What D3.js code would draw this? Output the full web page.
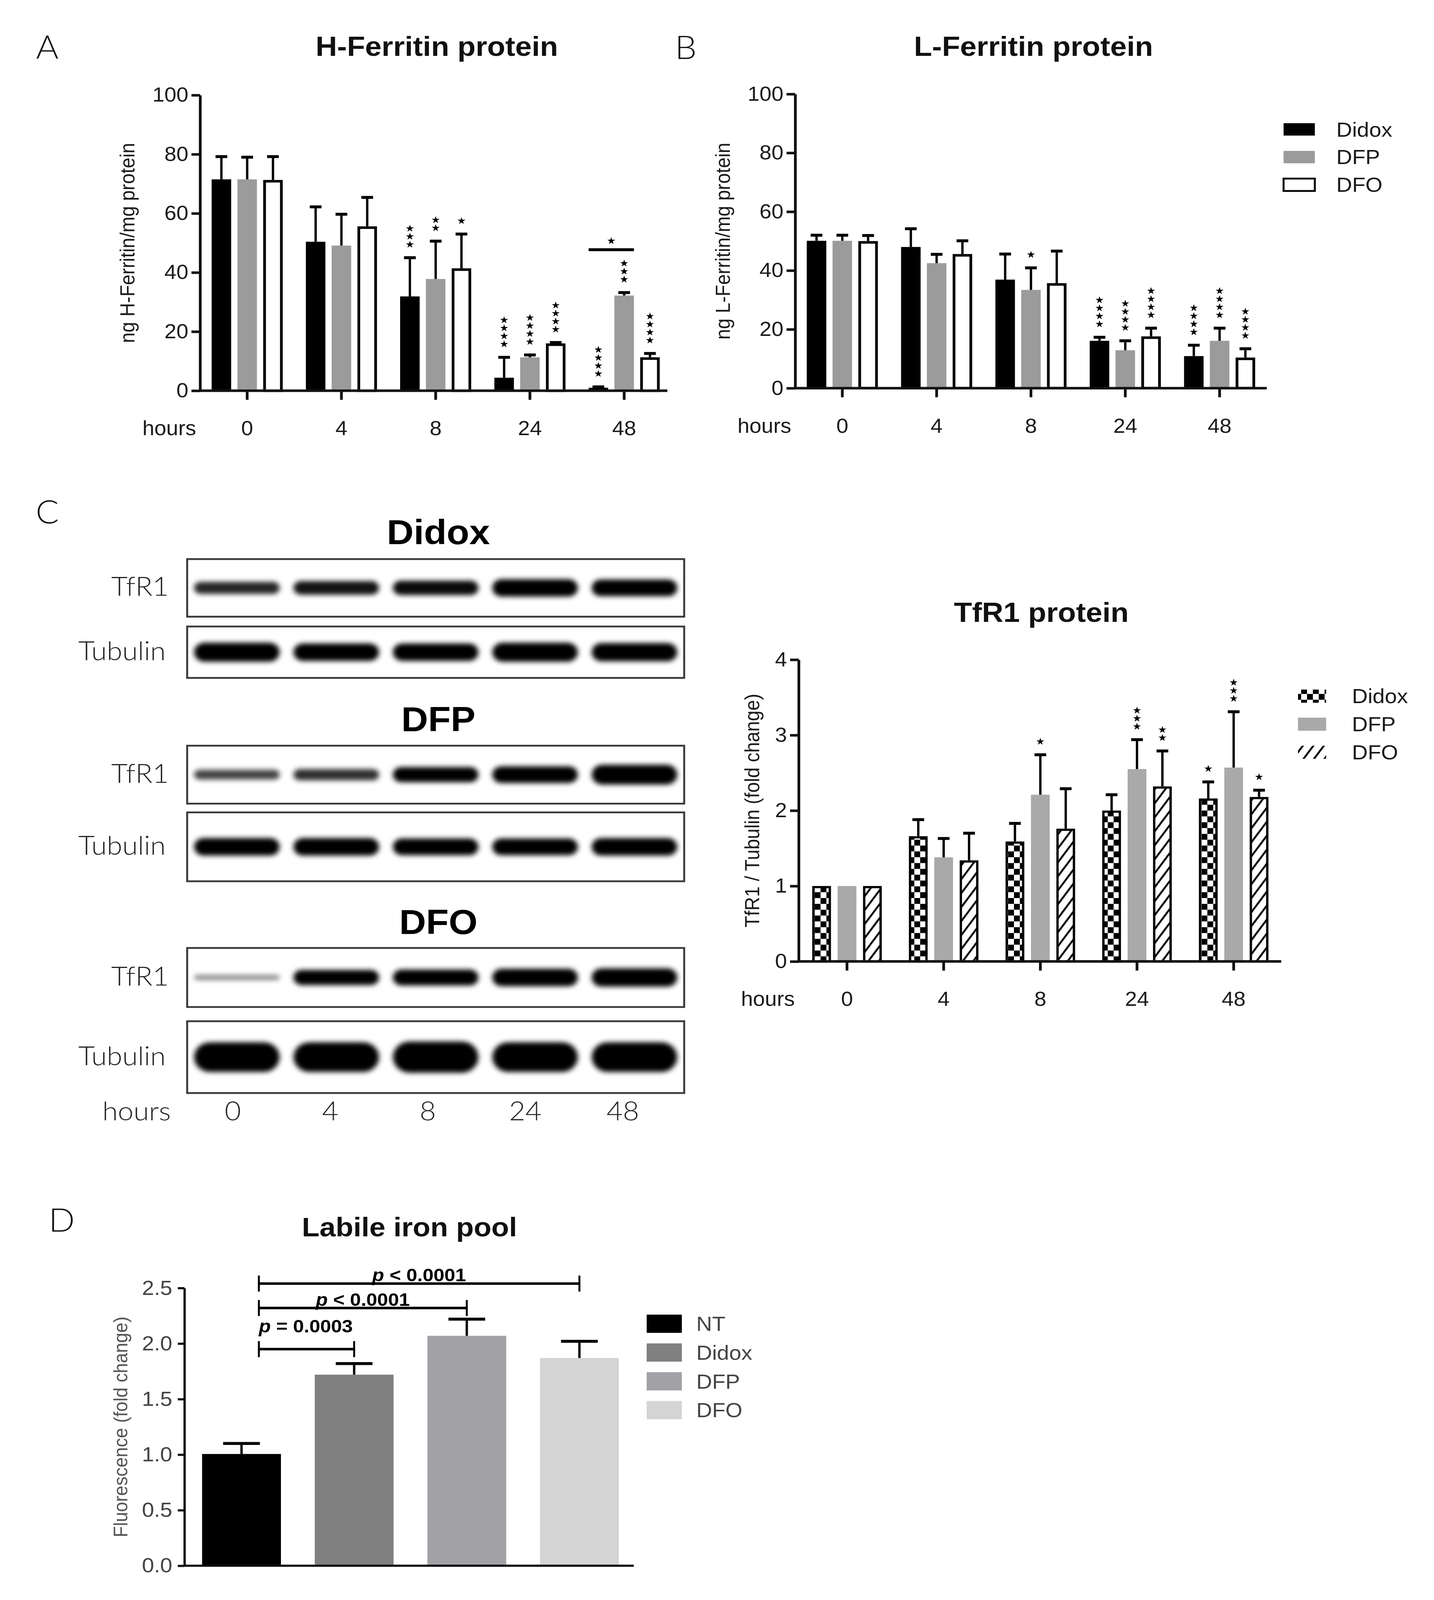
<!DOCTYPE html>
<html>
<head>
<meta charset="utf-8">
<script src="https://cdn.jsdelivr.net/npm/d3@7"></script>
<style>
  html, body { margin: 0; padding: 0; background: #fff; overflow: hidden; }
  svg { display: block; width: 100vw; height: 100vh; }
</style>
</head>
<body>
<div id="figure"></div>
<script>
var svgWidth = 3670;
var svgHeight = 4390;

var ARIAL = "'Liberation Sans', Arial, sans-serif";
var NARROW = "'Liberation Sans Narrow', 'Liberation Sans', Arial, sans-serif";
var LIGHT = "Lato, 'Open Sans', sans-serif";

// categories
var hours = ["0", "4", "8", "24", "48"];
var agents = ["Didox", "DFP", "DFO"];

// A: H-Ferritin protein (ng / mg protein), mean and SD
var hFerDidox = [71.5, 50.4, 31.9, 4.4, 1.0];
var hFerDidoxSD = [7.7, 11.8, 13.1, 6.9, 0.3];
var hFerDidoxSig = ["", "", "***", "****", "****"];
var hFerDFP = [71.5, 49.1, 37.8, 11.3, 32.2];
var hFerDFPSD = [7.5, 10.6, 12.8, 0.8, 1.0];
var hFerDFPSig = ["", "", "**", "****", "***"];
var hFerDFO = [71.3, 55.6, 41.4, 16.0, 11.3];
var hFerDFOSD = [7.9, 9.8, 11.6, 0.3, 1.3];
var hFerDFOSig = ["", "", "*", "****", "****"];

// B: L-Ferritin protein
var lFerDidox = [50.1, 48.0, 36.9, 16.1, 10.9];
var lFerDidoxSD = [1.9, 6.2, 8.7, 1.2, 3.7];
var lFerDidoxSig = ["", "", "", "****", "****"];
var lFerDFP = [50.1, 42.5, 33.4, 12.9, 16.1];
var lFerDFPSD = [1.9, 3.0, 7.5, 3.2, 4.3];
var lFerDFPSig = ["", "", "*", "****", "****"];
var lFerDFO = [50.0, 45.6, 35.7, 17.6, 10.4];
var lFerDFOSD = [1.9, 4.5, 10.9, 2.8, 3.0];
var lFerDFOSig = ["", "", "", "****", "****"];

// C: TfR1 / Tubulin (fold change)
var tfrDidox = [1.0, 1.66, 1.59, 2.0, 2.16];
var tfrDidoxSD = [0, 0.22, 0.24, 0.21, 0.22];
var tfrDidoxSig = ["", "", "", "", "*"];
var tfrDFP = [1.0, 1.38, 2.21, 2.55, 2.57];
var tfrDFPSD = [0, 0.25, 0.53, 0.39, 0.74];
var tfrDFPSig = ["", "", "*", "***", "***"];
var tfrDFO = [1.0, 1.34, 1.76, 2.32, 2.18];
var tfrDFOSD = [0, 0.36, 0.53, 0.47, 0.09];
var tfrDFOSig = ["", "", "", "**", "*"];

// C: western blot band intensities (relative signal per lane)
var blotDidoxTfR1 = [0.6, 0.7, 0.75, 0.95, 0.9];
var blotDidoxTub = [1.05, 0.95, 0.95, 1.05, 1.0];
var blotDFPTfR1 = [0.45, 0.55, 0.8, 0.9, 1.1];
var blotDFPTub = [0.95, 0.95, 0.9, 0.9, 0.95];
var blotDFOTfR1 = [0.12, 0.8, 0.85, 0.95, 1.0];
var blotDFOTub = [1.75, 1.75, 1.85, 1.75, 1.75];

// D: labile iron pool (fluorescence fold change)
var lipGroups = ["NT", "Didox", "DFP", "DFO"];
var lipMean = [1.006, 1.72, 2.07, 1.87];
var lipSD = [0.095, 0.10, 0.15, 0.15];
var lipPairTarget = ["Didox", "DFP", "DFO"];
var lipPairText = ["0.0003", "0.0001", "0.0001"];
var lipPairSign = ["=", "<", "<"];
var lipPairLevel = [1.95, 2.32, 2.54];

// the drawing keeps its 3670x4390 coordinates and is stretched onto the viewport
var svg = d3.select("#figure")
  .append("svg")
  .attr("viewBox", `0 0 ${svgWidth} ${svgHeight}`)
  .attr("preserveAspectRatio", "none")
  .style("background", "#fff");

var defs = svg.append("defs");

// checkerboard fill for Didox (TfR1 chart)
var checker = defs.append("pattern")
  .attr("id", "checker")
  .attr("patternUnits", "userSpaceOnUse")
  .attr("width", 30).attr("height", 32);
checker.append("rect").attr("width", 30).attr("height", 32).attr("fill", "#fff");
checker.append("rect").attr("width", 15).attr("height", 16).attr("fill", "#000");
checker.append("rect").attr("x", 15).attr("y", 16).attr("width", 15).attr("height", 16).attr("fill", "#000");

// diagonal hatch for DFO (TfR1 chart)
var hatch = defs.append("pattern")
  .attr("id", "hatch")
  .attr("patternUnits", "userSpaceOnUse")
  .attr("width", 22).attr("height", 22)
  .attr("patternTransform", "rotate(35)");
hatch.append("rect").attr("width", 22).attr("height", 22).attr("fill", "#fff");
hatch.append("line")
  .attr("x1", 11).attr("x2", 11).attr("y1", 0).attr("y2", 22)
  .attr("stroke", "#000").attr("stroke-width", 5);

// soft edges for blot bands
var blur = defs.append("filter")
  .attr("id", "blur")
  .attr("x", "-50%").attr("y", "-200%")
  .attr("width", "200%").attr("height", "500%");
blur.append("feGaussianBlur").attr("stdDeviation", 7);

// small helper for plain text
function label(x, y, txt, size, opts) {
  opts = opts || {};
  var t = svg.append("text")
    .attr("x", x).attr("y", y)
    .attr("font-family", opts.family || ARIAL)
    .attr("font-size", size)
    .attr("font-weight", opts.weight || "normal")
    .attr("fill", opts.fill || "#111")
    .attr("text-anchor", opts.anchor || "middle")
    .attr("dominant-baseline", "central")
    .text(txt);
  if (opts.rotate) {
    t.attr("transform", `rotate(-90, ${x}, ${y})`);
  }
  return t;
}

// panel letters
label(121, 127, "A", 88, {family: LIGHT, weight: 300});
label(1755, 128, "B", 88, {family: LIGHT, weight: 300});
label(121, 1402, "C", 88, {family: LIGHT, weight: 300});
label(158, 3345, "D", 88, {family: LIGHT, weight: 300});

var star = d3.symbol().type(d3.symbolStar).size(125);

// grouped bar chart with one-sided SD error bars and stacked significance stars
function barPanel(p) {
  var g = svg.append("g");
  var x = d3.scaleBand().domain(hours).range(p.xRange);
  var sub = d3.scalePoint().domain(agents).range([-p.barStep, p.barStep]);
  var y = d3.scaleLinear().domain([0, p.yMax]).range(p.yRange);

  function cx(h, name) {
    return x(h) + x.bandwidth() / 2 + sub(name);
  }

  p.series.forEach(function(s) {
    var rows = hours.map(function(h, i) {
      return {h: h, v: s.mean[i], sd: s.sd[i], sig: s.sig[i]};
    });
    var inset = s.stroke ? p.strokeW / 2 : 0;
    var sg = g.append("g");

    sg.selectAll("rect")
      .data(rows)
      .enter()
      .append("rect")
      .attr("x", d => cx(d.h, s.name) - p.barW / 2 + inset)
      .attr("y", d => y(d.v) + inset)
      .attr("width", p.barW - 2 * inset)
      .attr("height", d => Math.max(0, y(0) - y(d.v) - inset))
      .attr("fill", s.fill)
      .attr("stroke", s.stroke || "none")
      .attr("stroke-width", p.strokeW);

    var eb = sg.selectAll("g.err")
      .data(rows.filter(d => d.sd > 0))
      .enter()
      .append("g")
      .attr("class", "err");
    eb.append("line")
      .attr("x1", d => cx(d.h, s.name))
      .attr("x2", d => cx(d.h, s.name))
      .attr("y1", d => y(d.v))
      .attr("y2", d => y(d.v + d.sd))
      .attr("stroke", "#000")
      .attr("stroke-width", 6);
    eb.append("line")
      .attr("x1", d => cx(d.h, s.name) - p.capW / 2)
      .attr("x2", d => cx(d.h, s.name) + p.capW / 2)
      .attr("y1", d => y(d.v + d.sd))
      .attr("y2", d => y(d.v + d.sd))
      .attr("stroke", "#000")
      .attr("stroke-width", 8);

    // significance stars, stacked upwards
    rows.forEach(function(d) {
      for (var k = 0; k < d.sig.length; k++) {
        sg.append("path")
          .attr("d", star)
          .attr("fill", "#000")
          .attr("transform", `translate(${cx(d.h, s.name)}, ${y(d.v + d.sd) - 36 - k * 22})`);
      }
    });
  });

  // axes
  var yAxis = g.append("g")
    .attr("transform", `translate(${p.xRange[0]}, 0)`)
    .call(d3.axisLeft(y).tickValues(p.yTicks).tickFormat(d3.format("d"))
      .tickSize(22).tickSizeOuter(0).tickPadding(8));
  var xAxis = g.append("g")
    .attr("transform", `translate(0, ${p.yRange[0]})`)
    .call(d3.axisBottom(x).tickSize(25).tickSizeOuter(0).tickPadding(58));
  [yAxis, xAxis].forEach(function(a) {
    a.attr("font-family", ARIAL).attr("font-size", 55);
    a.selectAll("path, line").attr("stroke", "#111").attr("stroke-width", 7);
    a.selectAll("text").attr("fill", "#1a1a1a");
  });
  xAxis.select(".domain").attr("d", `M${p.xRange[0] - 3},0H${p.xEnd}`);

  label(p.xRange[0] - 10, p.yRange[0] + 103, "hours", 55, {anchor: "end", fill: "#1a1a1a"});
  label(p.yLabelX, (p.yRange[0] + p.yRange[1]) / 2, p.yLabel, 52, {rotate: true, fill: "#1a1a1a"});
  label(p.titleX, p.titleY, p.title, 76, {weight: "bold"});

  return {x: x, y: y, cx: cx, g: g};
}

// Panel A
var panelA = barPanel({
  xRange: [512, 1718], xEnd: 1708, yRange: [1072, 261], yMax: 100,
  yTicks: [0, 20, 40, 60, 80, 100],
  barStep: 66, barW: 50, capW: 30, strokeW: 7,
  yLabel: "ng H-Ferritin/mg protein", yLabelX: 326,
  title: "H-Ferritin protein", titleX: 1118, titleY: 127,
  series: [
    {name: "Didox", mean: hFerDidox, sd: hFerDidoxSD, sig: hFerDidoxSig, fill: "#000"},
    {name: "DFP", mean: hFerDFP, sd: hFerDFPSD, sig: hFerDFPSig, fill: "#9b9b9b"},
    {name: "DFO", mean: hFerDFO, sd: hFerDFOSD, sig: hFerDFOSig, fill: "#fff", stroke: "#000"}
  ]
});

// Didox vs DFP at 48 h
var bracketA = 47.7;
panelA.g.append("line")
  .attr("x1", panelA.cx("48", "Didox") - 25)
  .attr("x2", panelA.cx("48", "DFP") + 25)
  .attr("y1", panelA.y(bracketA))
  .attr("y2", panelA.y(bracketA))
  .attr("stroke", "#000").attr("stroke-width", 8);
panelA.g.append("path")
  .attr("d", star)
  .attr("transform", `translate(${(panelA.cx("48", "Didox") + panelA.cx("48", "DFP")) / 2}, ${panelA.y(bracketA) - 24})`);

// Panel B
barPanel({
  xRange: [2035, 3242], xEnd: 3242, yRange: [1065, 258], yMax: 100,
  yTicks: [0, 20, 40, 60, 80, 100],
  barStep: 66, barW: 50, capW: 30, strokeW: 7,
  yLabel: "ng L-Ferritin/mg protein", yLabelX: 1850,
  title: "L-Ferritin protein", titleX: 2645, titleY: 127,
  series: [
    {name: "Didox", mean: lFerDidox, sd: lFerDidoxSD, sig: lFerDidoxSig, fill: "#000"},
    {name: "DFP", mean: lFerDFP, sd: lFerDFPSD, sig: lFerDFPSig, fill: "#9b9b9b"},
    {name: "DFO", mean: lFerDFO, sd: lFerDFOSD, sig: lFerDFOSig, fill: "#fff", stroke: "#000"}
  ]
});

// legend for A/B
var legendB = svg.append("g");
var legendBFill = ["#000", "#9b9b9b", "#fff"];
agents.forEach(function(a, i) {
  var cy = 355 + i * 76;
  legendB.append("rect")
    .attr("x", 3285).attr("y", cy - 17)
    .attr("width", 80).attr("height", 34)
    .attr("fill", legendBFill[i])
    .attr("stroke", i === 2 ? "#000" : "none")
    .attr("stroke-width", 5);
  label(3420, cy, a, 56, {anchor: "start", fill: "#1a1a1a"});
});

// Panel C chart
barPanel({
  xRange: [2044, 3281], xEnd: 3279, yRange: [2638, 1810], yMax: 4,
  yTicks: [0, 1, 2, 3, 4],
  barStep: 65, barW: 48, capW: 30, strokeW: 6,
  yLabel: "TfR1 / Tubulin (fold change)", yLabelX: 1925,
  title: "TfR1 protein", titleX: 2665, titleY: 1680,
  series: [
    {name: "Didox", mean: tfrDidox, sd: tfrDidoxSD, sig: tfrDidoxSig, fill: "url(#checker)", stroke: "#000"},
    {name: "DFP", mean: tfrDFP, sd: tfrDFPSD, sig: tfrDFPSig, fill: "#a9a9a9"},
    {name: "DFO", mean: tfrDFO, sd: tfrDFOSD, sig: tfrDFOSig, fill: "url(#hatch)", stroke: "#000"}
  ]
});

var legendC = svg.append("g");
var legendCFill = ["url(#checker)", "#a9a9a9", "url(#hatch)"];
agents.forEach(function(a, i) {
  var cy = 1910 + i * 77;
  legendC.append("rect")
    .attr("x", 3322).attr("y", cy - 18)
    .attr("width", 72).attr("height", 36)
    .attr("fill", legendCFill[i]);
  label(3460, cy, a, 56, {anchor: "start", fill: "#1a1a1a"});
});

// Panel C blots
var lane = d3.scaleBand().domain(hours).range([479, 1751]);
var laneLabel = d3.scalePoint().domain(hours).range([596, 1594]);
var blotRows = [
  {name: "TfR1", top: 1534, h: 158, vals: blotDidoxTfR1},
  {name: "Tubulin", top: 1719, h: 141, vals: blotDidoxTub},
  {name: "TfR1", top: 2046, h: 159, vals: blotDFPTfR1},
  {name: "Tubulin", top: 2229, h: 189, vals: blotDFPTub},
  {name: "TfR1", top: 2601, h: 162, vals: blotDFOTfR1},
  {name: "Tubulin", top: 2802, h: 197, vals: blotDFOTub}
];
var blotTitles = [["Didox", 1460], ["DFP", 1973], ["DFO", 2529]];
blotTitles.forEach(function(t) {
  label(1122, t[1], t[0], 95, {weight: "bold", fill: "#000"});
});

var blots = svg.append("g");
blotRows.forEach(function(r) {
  var row = blots.append("g");
  var mid = r.top + r.h / 2;
  row.append("rect")
    .attr("x", 479).attr("y", r.top)
    .attr("width", 1272).attr("height", r.h)
    .attr("fill", "#fff")
    .attr("stroke", "#3a3a3a").attr("stroke-width", 5);
  row.selectAll("rect.band")
    .data(r.vals)
    .enter()
    .append("rect")
    .attr("class", "band")
    .attr("x", (d, i) => lane(hours[i]) + lane.bandwidth() * 0.07)
    .attr("width", lane.bandwidth() * 0.86)
    .attr("y", d => mid - (8 + 42 * d) / 2)
    .attr("height", d => 8 + 42 * d)
    .attr("rx", d => (8 + 42 * d) / 2)
    .attr("fill", "#000")
    .attr("fill-opacity", d => Math.min(1, 0.4 + 0.75 * d))
    .attr("filter", "url(#blur)");
  label(r.name === "TfR1" ? 432 : 424, mid - 6, r.name, 72, {family: LIGHT, weight: 300, anchor: "end", fill: "#222"});
});
label(437, 3046, "hours", 72, {family: LIGHT, weight: 300, anchor: "end", fill: "#222"});
hours.forEach(function(h) {
  label(laneLabel(h), 3046, h, 72, {family: LIGHT, weight: 300, fill: "#222"});
});

// Panel D
var dG = svg.append("g");
var xD = d3.scaleBand().domain(lipGroups).range([474, 1627]).paddingInner(0.3).paddingOuter(0.15);
var yD = d3.scaleLinear().domain([0, 2.5]).range([4296, 3534]);
var lipFill = d3.scaleOrdinal().domain(lipGroups).range(["#000", "#808080", "#a2a1a6", "#d4d4d4"]);
var lipRows = lipGroups.map((k, i) => ({k: k, v: lipMean[i], sd: lipSD[i]}));

dG.selectAll("rect.bar")
  .data(lipRows)
  .enter()
  .append("rect")
  .attr("class", "bar")
  .attr("x", d => xD(d.k))
  .attr("y", d => yD(d.v))
  .attr("width", xD.bandwidth())
  .attr("height", d => yD(0) - yD(d.v))
  .attr("fill", d => lipFill(d.k));

var dErr = dG.selectAll("g.err").data(lipRows).enter().append("g");
dErr.append("line")
  .attr("x1", d => xD(d.k) + xD.bandwidth() / 2)
  .attr("x2", d => xD(d.k) + xD.bandwidth() / 2)
  .attr("y1", d => yD(d.v))
  .attr("y2", d => yD(d.v + d.sd))
  .attr("stroke", "#000").attr("stroke-width", 6);
dErr.append("line")
  .attr("x1", d => xD(d.k) + xD.bandwidth() / 2 - 47)
  .attr("x2", d => xD(d.k) + xD.bandwidth() / 2 + 47)
  .attr("y1", d => yD(d.v + d.sd))
  .attr("y2", d => yD(d.v + d.sd))
  .attr("stroke", "#000").attr("stroke-width", 8);

var yAxisD = dG.append("g")
  .attr("transform", "translate(472, 0)")
  .call(d3.axisLeft(yD).tickValues([0, 0.5, 1, 1.5, 2, 2.5]).tickFormat(d3.format(".1f"))
    .tickSize(17).tickSizeOuter(0).tickPadding(14));
yAxisD.attr("font-family", NARROW).attr("font-size", 56);
yAxisD.selectAll("path, line").attr("stroke", "#111").attr("stroke-width", 6);
yAxisD.selectAll("text").attr("fill", "#444");
dG.append("line")
  .attr("x1", 469).attr("x2", 1622)
  .attr("y1", yD(0)).attr("y2", yD(0))
  .attr("stroke", "#111").attr("stroke-width", 6);

label(308, (yD(0) + yD(2.5)) / 2, "Fluorescence (fold change)", 50, {rotate: true, fill: "#555"});
label(1048, 3366, "Labile iron pool", 74, {weight: "bold"});

// comparison brackets against NT
var bracketLeft = xD("NT") + xD.bandwidth() * 0.72;
lipPairTarget.forEach(function(t, i) {
  var yy = yD(lipPairLevel[i]);
  var xr = xD(t) + xD.bandwidth() / 2;
  var br = dG.append("g");
  br.append("line").attr("x1", bracketLeft).attr("x2", xr).attr("y1", yy).attr("y2", yy)
    .attr("stroke", "#000").attr("stroke-width", 7);
  [bracketLeft, xr].forEach(function(xx) {
    br.append("line").attr("x1", xx).attr("x2", xx).attr("y1", yy - 22).attr("y2", yy + 22)
      .attr("stroke", "#000").attr("stroke-width", 5);
  });
  var first = i === 0;
  var txt = br.append("text")
    .attr("x", first ? bracketLeft : (bracketLeft + xr) / 2)
    .attr("y", first ? yy - 46 : yy - 6)
    .attr("text-anchor", first ? "start" : "middle")
    .attr("font-family", ARIAL)
    .attr("font-size", 50)
    .attr("font-weight", "bold")
    .attr("fill", "#000");
  txt.append("tspan").attr("font-style", "italic").text("p");
  txt.append("tspan").text(" " + lipPairSign[i] + " " + lipPairText[i]);
});

// legend D
lipGroups.forEach(function(k, i) {
  var cy = 3632 + i * 79;
  dG.append("rect")
    .attr("x", 1655).attr("y", cy - 25)
    .attr("width", 90).attr("height", 50)
    .attr("fill", lipFill(k));
  label(1782, cy, k, 56, {family: NARROW, anchor: "start", fill: "#444"});
});
</script>
</body>
</html>
